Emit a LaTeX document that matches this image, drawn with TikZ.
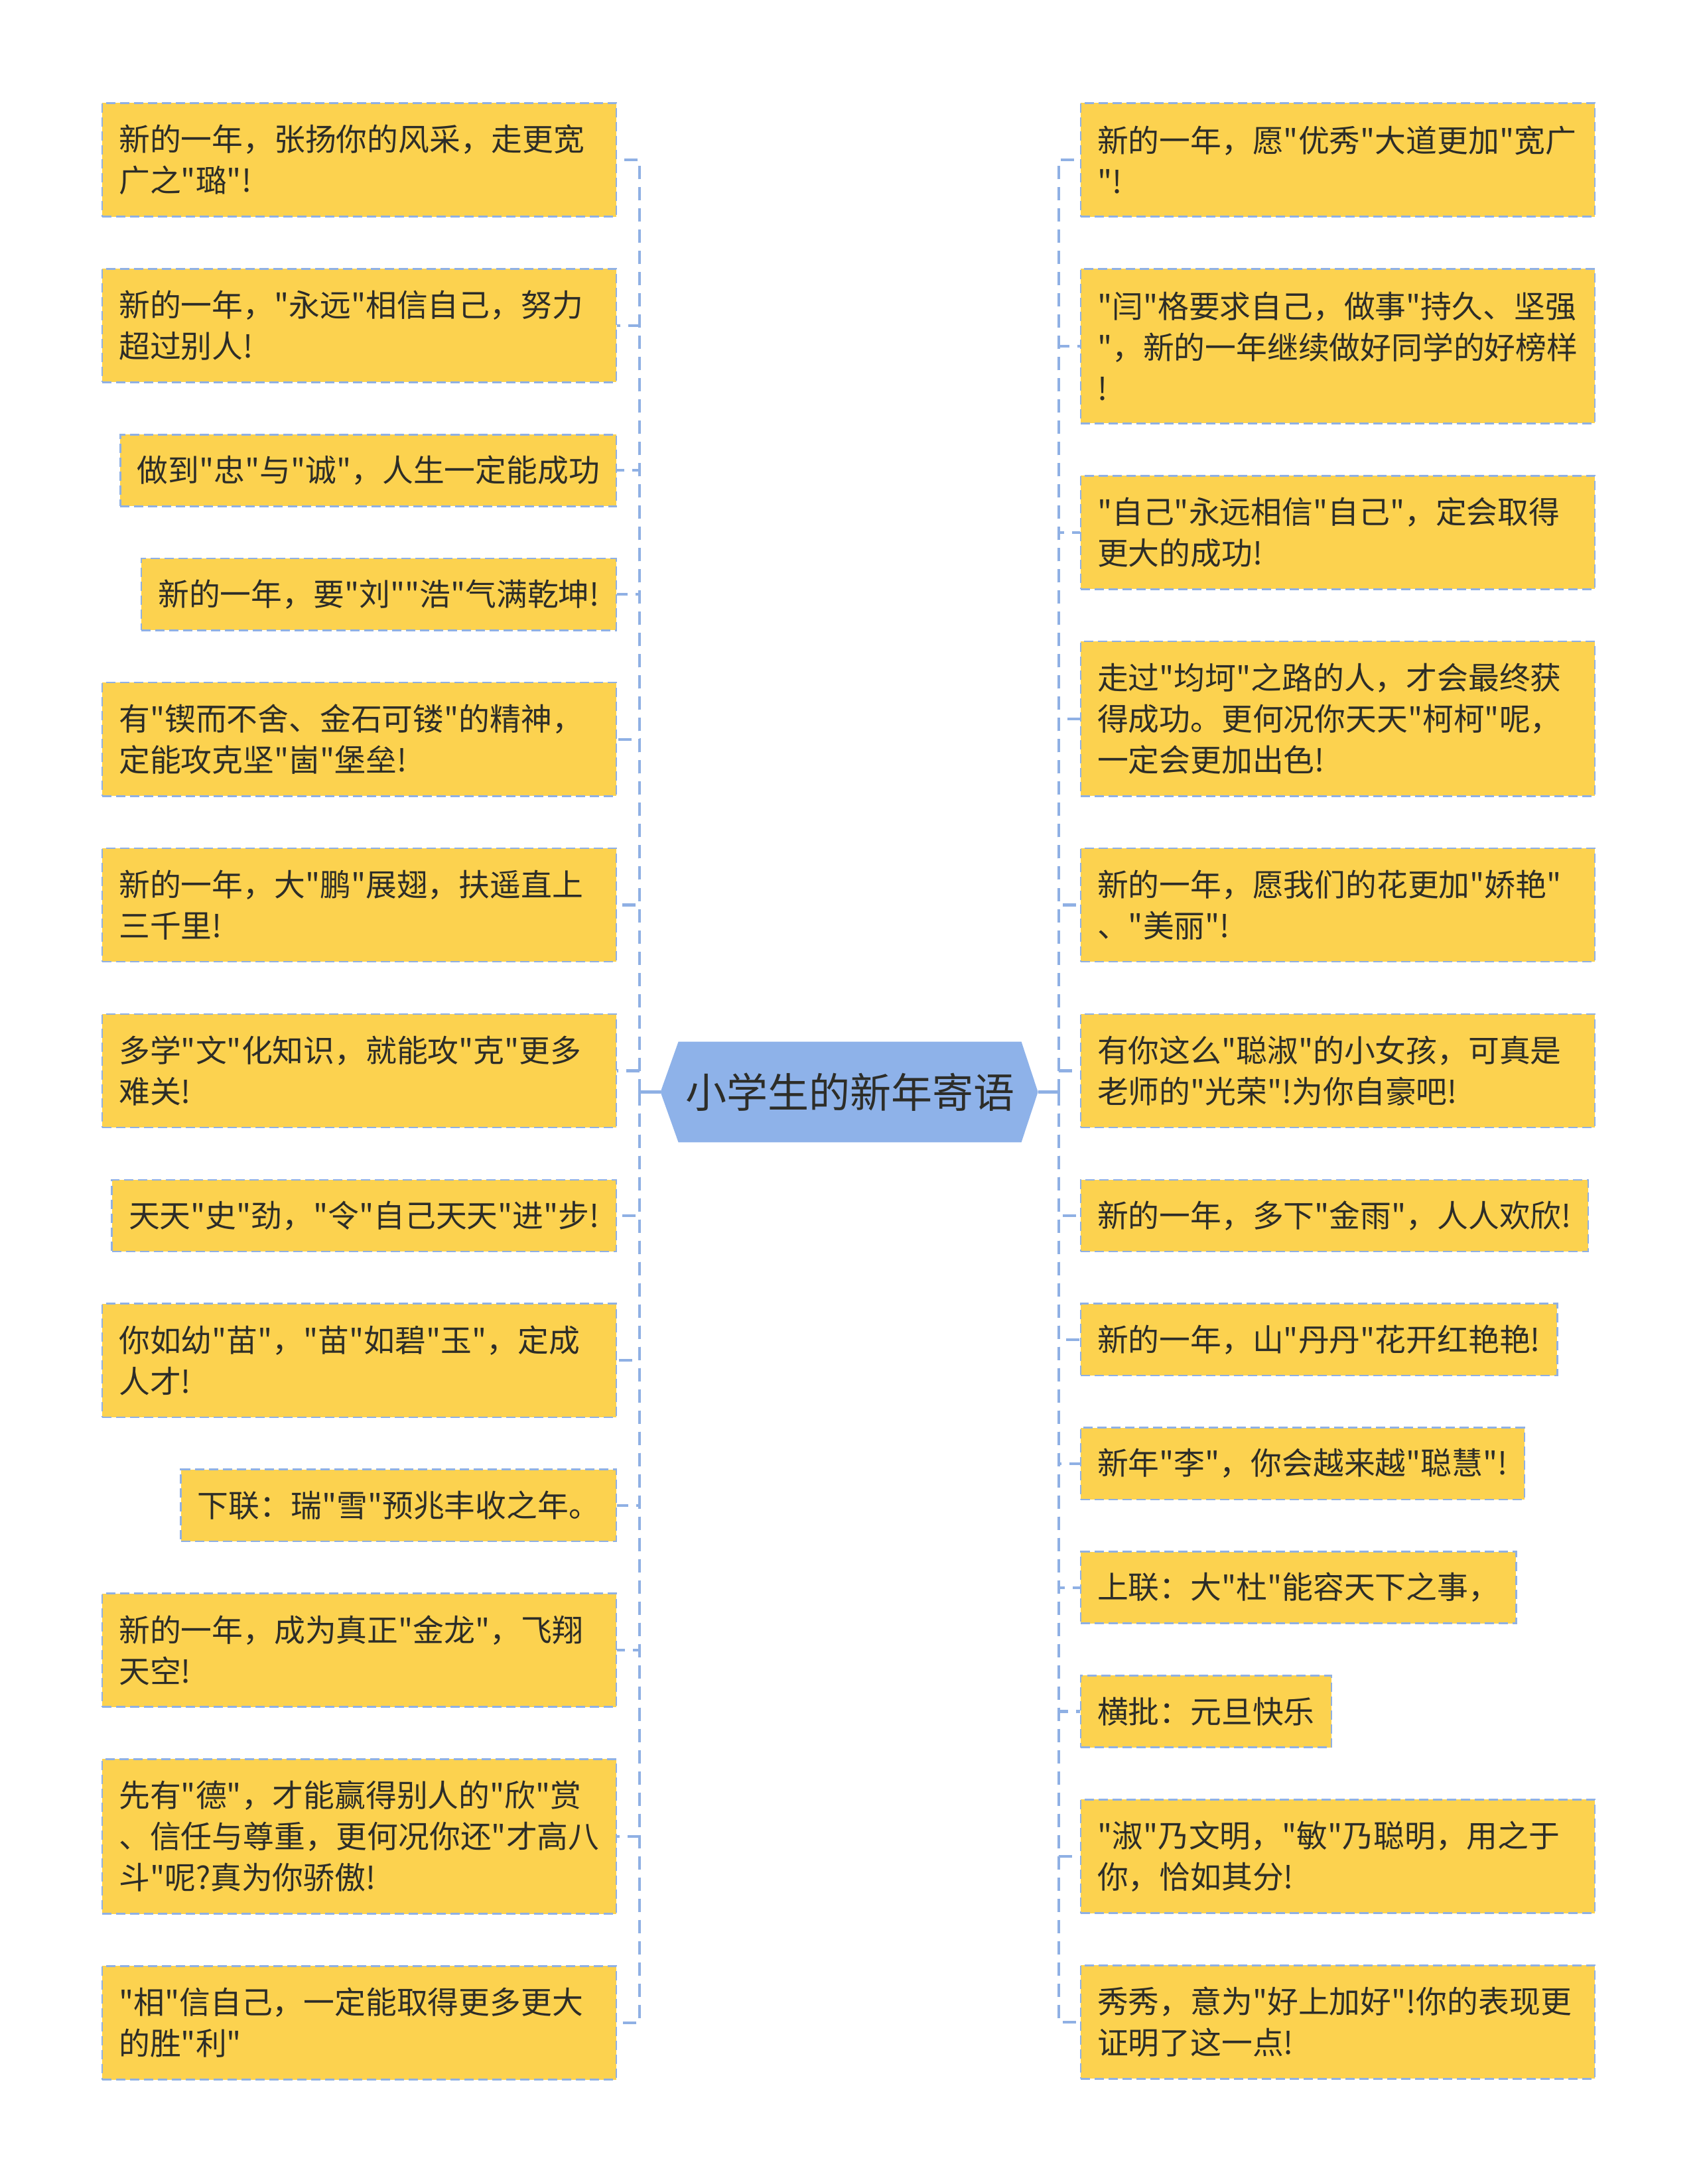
\documentclass[tikz,border=0pt]{standalone}
\usepackage{fontspec}
\setmainfont{Noto Sans CJK SC}[Ligatures=TeXOff]
\usetikzlibrary{backgrounds}
\definecolor{boxfill}{RGB}{252,210,79}
\definecolor{lineblue}{RGB}{143,176,228}
\definecolor{rootfill}{RGB}{142,178,233}
\definecolor{txt}{RGB}{45,45,40}
\begin{document}
\begin{tikzpicture}[x=2.1pt,y=-2.1pt,
  leaf/.style={rectangle, draw=lineblue, line width=2.6pt, dash pattern=on 14pt off 7pt,
    fill=boxfill, text=txt, font=\fontsize{46.8pt}{62pt}\selectfont,
    inner xsep=25.2pt, inner ysep=0pt, align=left},
  one/.style={minimum height=108.15pt},
  two/.style={minimum height=171.15pt, text width=724.5pt},
  three/.style={minimum height=233.1pt, text width=724.5pt},
  conn/.style={draw=lineblue, line width=4.2pt, dash pattern=on 20pt off 12pt},
  trunk/.style={draw=lineblue, line width=4.2pt},
  rootbox/.style={rectangle, inner sep=0pt, minimum width=516.6pt, minimum height=151.2pt,
    text=txt, font=\fontsize{62pt}{74pt}\selectfont}
]
\useasboundingbox (0,0) rectangle (1219,1568);

% root
\node[rootbox] (root) at (610,784) {小学生的新年寄语};
\coordinate (rl) at ([xshift=-27pt]root.west);
\coordinate (rr) at ([xshift=25pt]root.east);
\begin{scope}[on background layer]
\fill[white] (0,0) rectangle (1219,1568);
\fill[rootfill] (rl) -- (root.north west) -- (root.north east) -- (rr)
  -- (root.south east) -- (root.south west) -- cycle;
\end{scope}

% left leaves
\node[leaf,two,anchor=east] (L1) at (443,114.75) {新的一年，张扬你的风采，走更宽\\广之"璐"!};
\node[leaf,two,anchor=east] (L2) at (443,233.75) {新的一年，"永远"相信自己，努力\\超过别人!};
\node[leaf,one,anchor=east] (L3) at (443,337.75) {做到"忠"与"诚"，人生一定能成功};
\node[leaf,one,anchor=east] (L4) at (443,426.75) {新的一年，要"刘""浩"气满乾坤!};
\node[leaf,two,anchor=east] (L5) at (443,530.75) {有"锲而不舍、金石可镂"的精神，\\定能攻克坚"崮"堡垒!};
\node[leaf,two,anchor=east] (L6) at (443,649.75) {新的一年，大"鹏"展翅，扶遥直上\\三千里!};
\node[leaf,two,anchor=east] (L7) at (443,768.75) {多学"文"化知识，就能攻"克"更多\\难关!};
\node[leaf,one,anchor=east] (L8) at (443,872.75) {天天"史"劲，"令"自己天天"进"步!};
\node[leaf,two,anchor=east] (L9) at (443,976.75) {你如幼"苗"，"苗"如碧"玉"，定成\\人才!};
\node[leaf,one,anchor=east] (L10) at (443,1080.75) {下联：瑞"雪"预兆丰收之年。};
\node[leaf,two,anchor=east] (L11) at (443,1184.75) {新的一年，成为真正"金龙"，飞翔\\天空!};
\node[leaf,three,anchor=east] (L12) at (443,1318.5) {先有"德"，才能赢得别人的"欣"赏\\、信任与尊重，更何况你还"才高八\\斗"呢?真为你骄傲!};
\node[leaf,two,anchor=east] (L13) at (443,1452.25) {"相"信自己，一定能取得更多更大\\的胜"利"};

% right leaves
\node[leaf,two,anchor=west] (R1) at (775,114.75) {新的一年，愿"优秀"大道更加"宽广\\"!};
\node[leaf,three,anchor=west] (R2) at (775,248.5) {"闫"格要求自己，做事"持久、坚强\\"，新的一年继续做好同学的好榜样\\!};
\node[leaf,two,anchor=west] (R3) at (775,382.25) {"自己"永远相信"自己"，定会取得\\更大的成功!};
\node[leaf,three,anchor=west] (R4) at (775,516) {走过"均坷"之路的人，才会最终获\\得成功。更何况你天天"柯柯"呢，\\一定会更加出色!};
\node[leaf,two,anchor=west] (R5) at (775,649.75) {新的一年，愿我们的花更加"娇艳"\\、"美丽"!};
\node[leaf,two,anchor=west] (R6) at (775,768.75) {有你这么"聪淑"的小女孩，可真是\\老师的"光荣"!为你自豪吧!};
\node[leaf,one,anchor=west] (R7) at (775,872.75) {新的一年，多下"金雨"，人人欢欣!};
\node[leaf,one,anchor=west] (R8) at (775,961.75) {新的一年，山"丹丹"花开红艳艳!};
\node[leaf,one,anchor=west] (R9) at (775,1050.75) {新年"李"，你会越来越"聪慧"!};
\node[leaf,one,anchor=west] (R10) at (775,1139.75) {上联：大"杜"能容天下之事，};
\node[leaf,one,anchor=west] (R11) at (775,1228.75) {横批：元旦快乐};
\node[leaf,two,anchor=west] (R12) at (775,1332.75) {"淑"乃文明，"敏"乃聪明，用之于\\你，恰如其分!};
\node[leaf,two,anchor=west] (R13) at (775,1451.75) {秀秀，意为"好上加好"!你的表现更\\证明了这一点!};

% connectors
\coordinate (jl) at (459,784);
\coordinate (jr) at (760,784);
\draw[trunk] (rl) -- (jl);
\draw[trunk] (rr) -- (jr);
\foreach \n in {1,...,13} {\draw[conn] (jl) |- (L\n.east);}
\foreach \n in {1,...,13} {\draw[conn] (jr) |- (R\n.west);}
\end{tikzpicture}
\end{document}
